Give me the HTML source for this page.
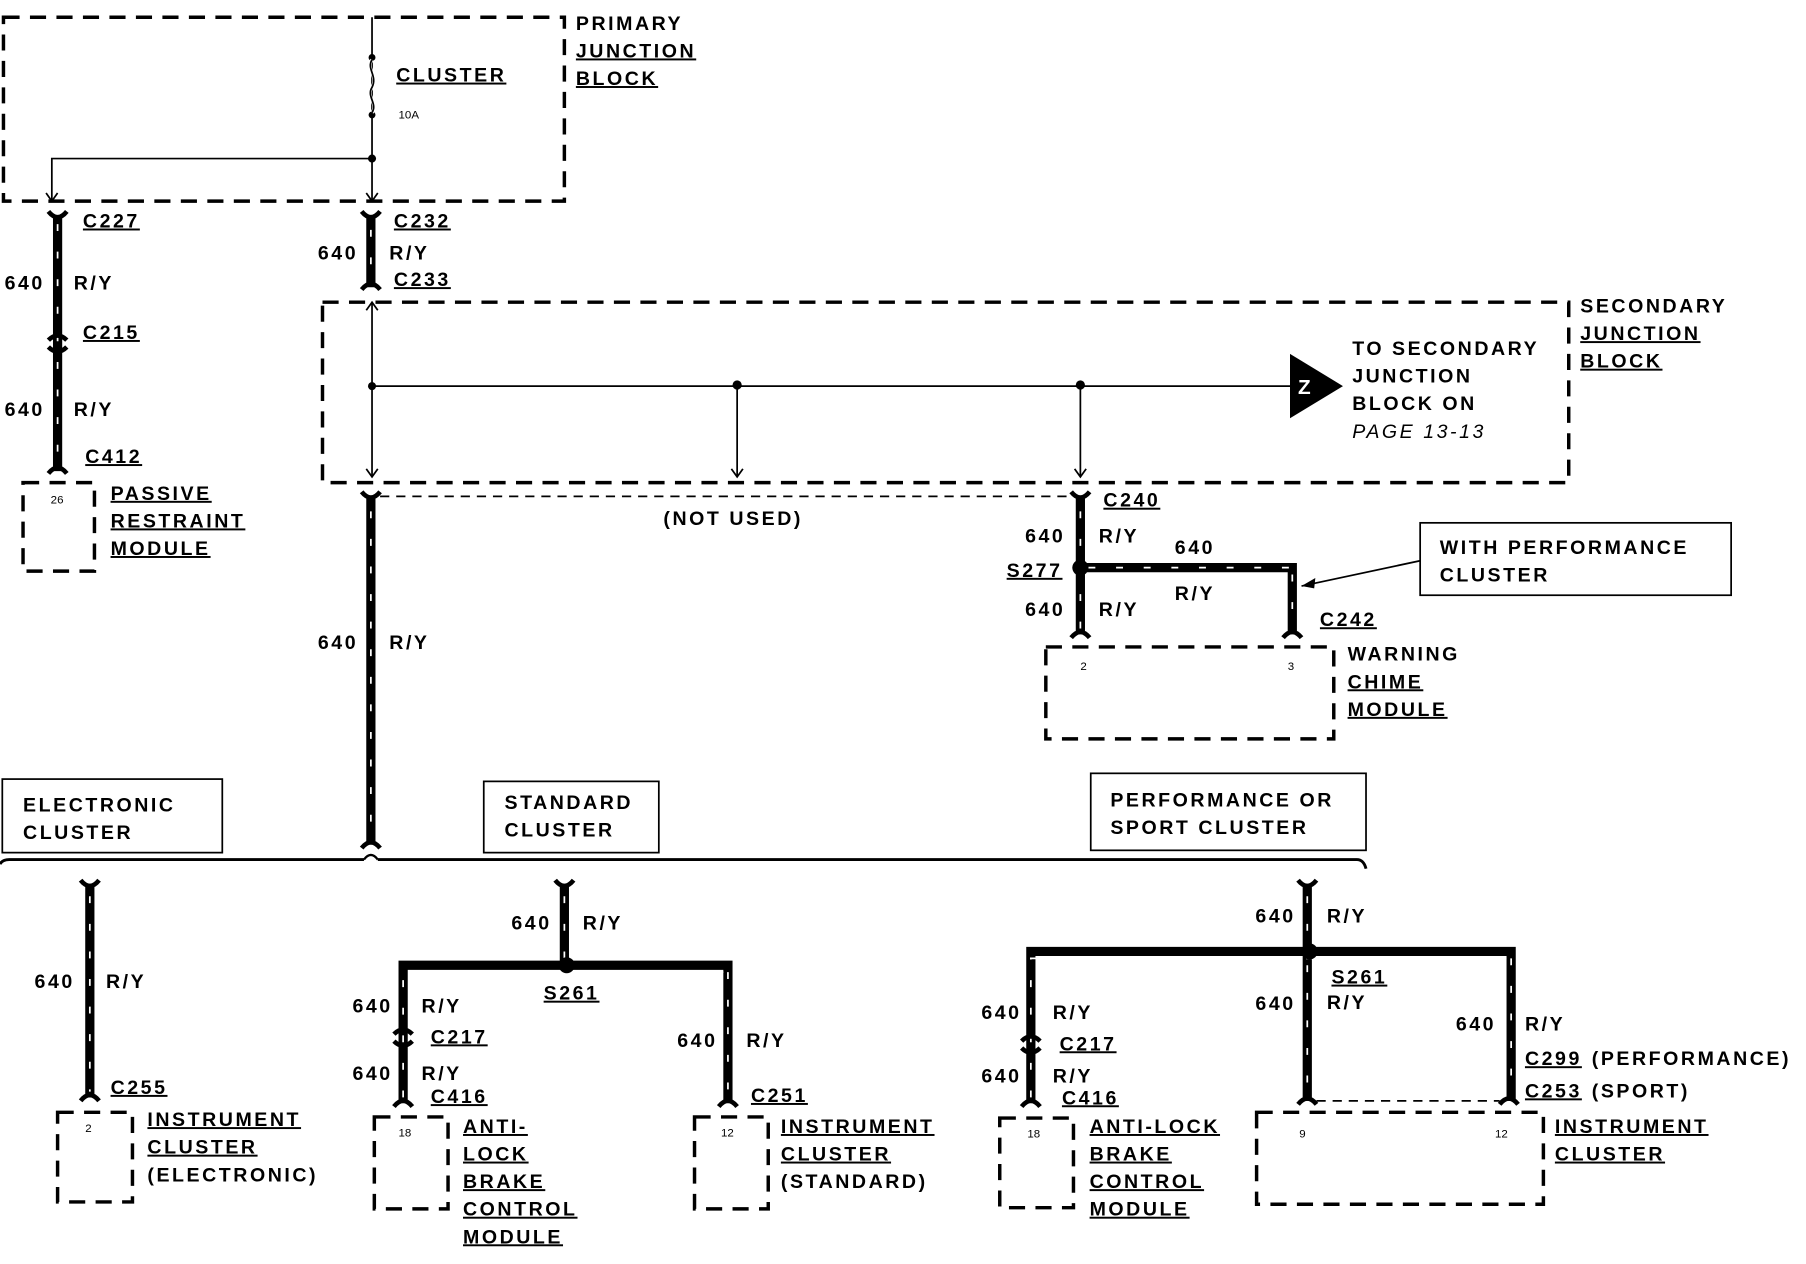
<!DOCTYPE html>
<html><head><meta charset="utf-8"><style>
html,body{margin:0;padding:0;background:#fff}
svg{display:block}
text{font-family:"Liberation Sans",sans-serif;font-weight:bold;font-size:17px;fill:#000;letter-spacing:2.2px}
.u{text-decoration:underline}
.w{stroke:#000;stroke-width:8;fill:none}
.d{stroke:#fff;stroke-width:1.5;fill:none;stroke-dasharray:6 18}
.t{stroke:#000;stroke-width:1.5;fill:none}
.b{stroke:#000;stroke-width:3;fill:none;stroke-dasharray:14 9}
.s{stroke:#000;stroke-width:1.5;fill:#fff}
.sm{font-size:10px;font-weight:normal;letter-spacing:0}
</style></head><body>
<svg width="1806" height="1264" viewBox="0 0 1568 1100" preserveAspectRatio="none" xmlns="http://www.w3.org/2000/svg">
<rect class="b" x="3" y="15" width="487" height="160"/>
<path class="t" d="M323 15V175M323 138H45V175"/>
<path class="t" d="M318 168l5 7 5-7M40 168l5 7 5-7"/>
<circle cx="323" cy="50" r="3"/><circle cx="323" cy="100" r="3"/><circle cx="323" cy="138" r="3.5"/>
<path d="M323 52c-6 8 6 14 0 24c-6 8 6 14 0 22" stroke="#fff" stroke-width="3" fill="none"/>
<path d="M323 52c-5 8 5 14 0 24c-5 8 5 14 0 22" stroke="#000" stroke-width="1.5" fill="none"/>
<text x="344" y="71" class="u">CLUSTER</text>
<text x="346" y="103" class="sm">10A</text>
<text x="500" y="26">PRIMARY</text>
<text x="500" y="50" class="u">JUNCTION</text>
<text x="500" y="74" class="u">BLOCK</text>

<path class="w" d="M50 188V410"/><path class="d" d="M50 195V405"/>
<path d="M42 184q8 10 16 0M42 296q8-8 16 0M42 302q8 8 16 0M42 412q8-10 16 0" stroke="#000" stroke-width="4" fill="none"/>
<text x="72" y="198" class="u">C227</text>
<text x="4" y="252">640</text><text x="64" y="252">R/Y</text>
<text x="72" y="295" class="u">C215</text>
<text x="4" y="362">640</text><text x="64" y="362">R/Y</text>
<text x="74" y="403" class="u">C412</text>
<rect class="b" x="20" y="420" width="62" height="77"/>
<text x="44" y="438" class="sm">26</text>
<text x="96" y="435" class="u">PASSIVE</text>
<text x="96" y="459" class="u">RESTRAINT</text>
<text x="96" y="483" class="u">MODULE</text>

<path class="w" d="M322 188V250"/><path class="d" d="M322 200V240"/>
<path d="M314 184q8 10 16 0M314 252q8-10 16 0" stroke="#000" stroke-width="4" fill="none"/>
<text x="342" y="198" class="u">C232</text>
<text x="276" y="226">640</text><text x="338" y="226">R/Y</text>
<text x="342" y="249" class="u">C233</text>

<rect class="b" x="280" y="263" width="1082" height="157"/>
<path class="t" d="M323 263V415M323 336H1120M640 336V415M938 336V415"/>
<path class="t" d="M318 270l5-7 5 7M318 408l5 7 5-7M635 408l5 7 5-7M933 408l5 7 5-7"/>
<circle cx="323" cy="336" r="3.5"/><circle cx="640" cy="335" r="4"/><circle cx="938" cy="335" r="4"/>
<path d="M1120 308L1166 336L1120 364Z"/>
<text x="1127" y="343" style="fill:#fff;font-size:18px">Z</text>
<text x="1174" y="309">TO SECONDARY</text>
<text x="1174" y="333">JUNCTION</text>
<text x="1174" y="357">BLOCK ON</text>
<text x="1174" y="381" style="font-weight:normal;font-style:italic">PAGE 13-13</text>
<text x="1372" y="272">SECONDARY</text>
<text x="1372" y="296" class="u">JUNCTION</text>
<text x="1372" y="320" class="u">BLOCK</text>

<path class="w" d="M322 432V735"/><path class="d" d="M322 445V730"/>
<path d="M314 428q8 10 16 0M314 738q8-10 16 0" stroke="#000" stroke-width="4" fill="none"/>
<path d="M330 432H938" stroke="#000" stroke-width="1.5" stroke-dasharray="8 6"/>
<text x="576" y="457">(NOT USED)</text>
<text x="276" y="565">640</text><text x="338" y="565">R/Y</text>

<path class="w" d="M938 432V552M938 494H1122V552"/><path class="d" d="M938 445V548M945 494H1122M1122 500V548"/>
<path d="M930 428q8 10 16 0M930 555q8-10 16 0M1114 555q8-10 16 0" stroke="#000" stroke-width="4" fill="none"/>
<circle cx="938" cy="494" r="7"/>
<text x="958" y="441" class="u">C240</text>
<text x="890" y="472">640</text><text x="954" y="472">R/Y</text>
<text x="874" y="502" class="u">S277</text>
<text x="1020" y="482">640</text>
<text x="1020" y="522">R/Y</text>
<text x="890" y="536">640</text><text x="954" y="536">R/Y</text>
<text x="1146" y="545" class="u">C242</text>
<rect class="b" x="908" y="563" width="250" height="80"/>
<text x="938" y="583" class="sm">2</text><text x="1118" y="583" class="sm">3</text>
<text x="1170" y="575">WARNING</text>
<text x="1170" y="599" class="u">CHIME</text>
<text x="1170" y="623" class="u">MODULE</text>
<rect class="s" x="1233" y="455" width="270" height="63"/>
<text x="1250" y="482">WITH PERFORMANCE</text>
<text x="1250" y="506">CLUSTER</text>
<path class="t" d="M1233 488L1130 510"/><path d="M1130 510l12-7-1 9z"/>

<path d="M0 752Q2 748 8 748H316M328 748H1178Q1184 748 1186 756" stroke="#000" stroke-width="2.5" fill="none"/>
<path d="M316 748q6-8 12 0" stroke="#000" stroke-width="2" fill="none"/>
<rect class="s" x="2" y="678" width="191" height="64"/>
<text x="20" y="706">ELECTRONIC</text><text x="20" y="730">CLUSTER</text>
<rect class="s" x="420" y="680" width="152" height="62"/>
<text x="438" y="704">STANDARD</text><text x="438" y="728">CLUSTER</text>
<rect class="s" x="947" y="673" width="239" height="67"/>
<text x="964" y="702">PERFORMANCE OR</text><text x="964" y="726">SPORT CLUSTER</text>

<path class="w" d="M78 770V955"/><path class="d" d="M78 780V950"/>
<path d="M70 766q8 10 16 0M70 958q8-10 16 0" stroke="#000" stroke-width="4" fill="none"/>
<text x="30" y="860">640</text><text x="92" y="860">R/Y</text>
<text x="96" y="952" class="u">C255</text>
<rect class="b" x="50" y="968" width="65" height="78"/>
<text x="74" y="985" class="sm">2</text>
<text x="128" y="980" class="u">INSTRUMENT</text>
<text x="128" y="1004" class="u">CLUSTER</text>
<text x="128" y="1028">(ELECTRONIC)</text>

<path class="w" d="M490 770V840M350 960V840H632V960"/><path class="d" d="M490 780V835M350 955V846H628M632 846V955"/>
<path d="M482 766q8 10 16 0M342 963q8-10 16 0M624 963q8-10 16 0M342 900q8-8 16 0M342 906q8 8 16 0" stroke="#000" stroke-width="4" fill="none"/>
<circle cx="492" cy="840" r="7"/>
<text x="444" y="809">640</text><text x="506" y="809">R/Y</text>
<text x="472" y="870" class="u">S261</text>
<text x="306" y="881">640</text><text x="366" y="881">R/Y</text>
<text x="374" y="908" class="u">C217</text>
<text x="306" y="940">640</text><text x="366" y="940">R/Y</text>
<text x="374" y="960" class="u">C416</text>
<text x="588" y="911">640</text><text x="648" y="911">R/Y</text>
<text x="652" y="959" class="u">C251</text>
<rect class="b" x="325" y="972" width="64" height="80"/>
<text x="346" y="989" class="sm">18</text>
<text x="402" y="986" class="u">ANTI-</text><text x="402" y="1010" class="u">LOCK</text>
<text x="402" y="1034" class="u">BRAKE</text><text x="402" y="1058" class="u">CONTROL</text>
<text x="402" y="1082" class="u">MODULE</text>
<rect class="b" x="603" y="972" width="64" height="80"/>
<text x="626" y="989" class="sm">12</text>
<text x="678" y="986" class="u">INSTRUMENT</text>
<text x="678" y="1010" class="u">CLUSTER</text>
<text x="678" y="1034">(STANDARD)</text>

<path class="w" d="M1135 770V828M895 960V828H1312V958M1135 828V958"/><path class="d" d="M1135 780V822M895 955V834H1308M1312 834V950M1135 840V950"/>
<path d="M1127 766q8 10 16 0M887 963q8-10 16 0M1127 961q8-10 16 0M1302 961q8-10 16 0M887 906q8-8 16 0M887 912q8 8 16 0" stroke="#000" stroke-width="4" fill="none"/>
<circle cx="1137" cy="828" r="7"/>
<path d="M1143 958H1302" stroke="#000" stroke-width="1.5" stroke-dasharray="8 6"/>
<text x="1090" y="803">640</text><text x="1152" y="803">R/Y</text>
<text x="1156" y="856" class="u">S261</text><text x="1152" y="878">R/Y</text>
<text x="1090" y="879">640</text>
<text x="852" y="887">640</text><text x="914" y="887">R/Y</text>
<text x="920" y="914" class="u">C217</text>
<text x="852" y="942">640</text><text x="914" y="942">R/Y</text>
<text x="922" y="961" class="u">C416</text>
<text x="1264" y="897">640</text><text x="1324" y="897">R/Y</text>
<text x="1324" y="927" class="u">C299</text><text x="1382" y="927">(PERFORMANCE)</text>
<text x="1324" y="955" class="u">C253</text><text x="1382" y="955">(SPORT)</text>
<rect class="b" x="868" y="973" width="64" height="78"/>
<text x="892" y="990" class="sm">18</text>
<text x="946" y="986" class="u">ANTI-LOCK</text><text x="946" y="1010" class="u">BRAKE</text>
<text x="946" y="1034" class="u">CONTROL</text><text x="946" y="1058" class="u">MODULE</text>
<rect class="b" x="1091" y="968" width="249" height="80"/>
<text x="1128" y="990" class="sm">9</text><text x="1298" y="990" class="sm">12</text>
<text x="1350" y="986" class="u">INSTRUMENT</text>
<text x="1350" y="1010" class="u">CLUSTER</text>
</svg>
</body></html>
